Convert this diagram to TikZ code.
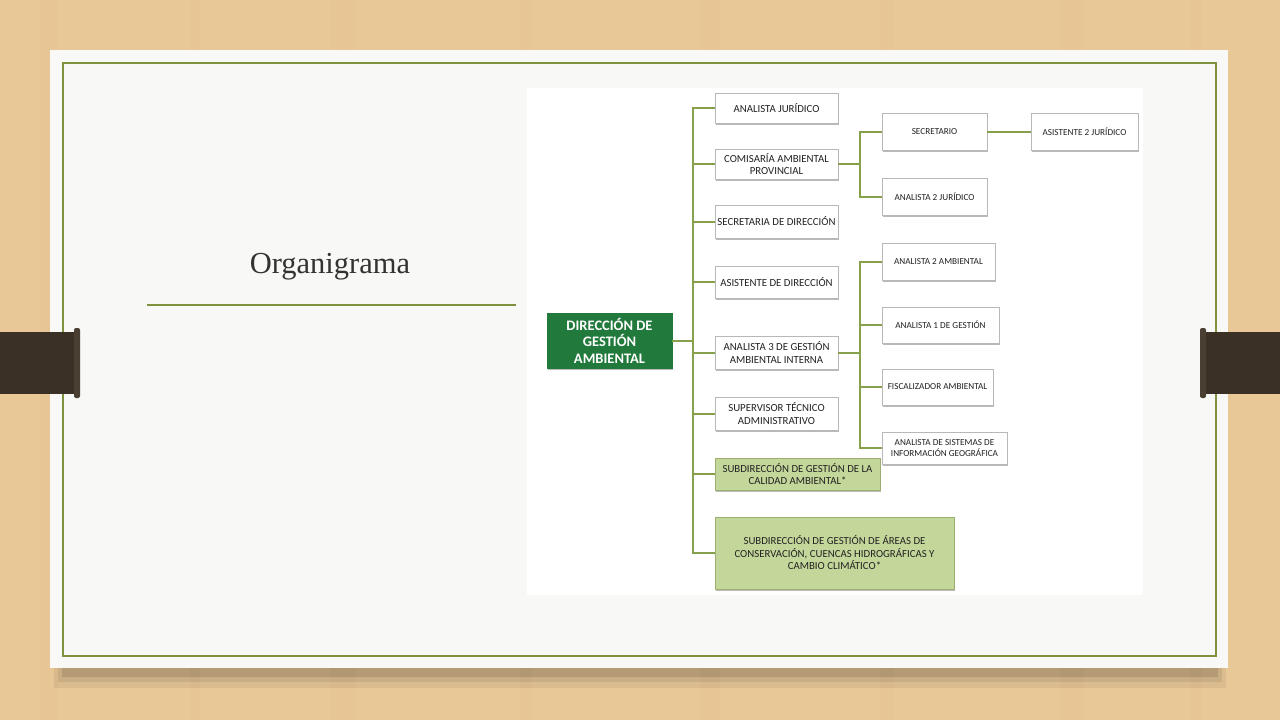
\documentclass[tikz,border=0pt]{standalone}
\usepackage{fontspec}
\setmainfont{Carlito}
\newfontfamily\titlefont{Liberation Serif}
\usepackage{xcolor}
\usepackage{tikz}
\usetikzlibrary{positioning,shadows}
\definecolor{wood}{HTML}{E9C898}
\definecolor{woodgrain}{HTML}{D9B27C}
\definecolor{slide}{HTML}{F8F8F6}
\definecolor{olive}{HTML}{7D913E}
\definecolor{strap}{HTML}{3A3026}
\definecolor{strapcap}{HTML}{4A3F33}
\definecolor{linkgreen}{HTML}{86A04C}
\definecolor{darkgreen}{HTML}{217A3C}
\definecolor{palegreen}{HTML}{C4D79B}
\definecolor{paleline}{HTML}{9CAF6E}
\definecolor{boxline}{HTML}{B8B8B8}
\definecolor{txtgray}{HTML}{222222}

\tikzset{
  orgbox/.style={draw=boxline, fill=white, line width=0.8pt, align=center,
    text=txtgray, inner sep=1pt, font=\fontsize{10.8}{12.5}\selectfont,
    drop shadow={shadow xshift=1.2pt, shadow yshift=-1.6pt, fill=black!60, opacity=0.45}},
  smallbox/.style={orgbox, font=\fontsize{9.2}{10.8}\selectfont},
  subbox/.style={orgbox, fill=palegreen, draw=paleline},
  mainbox/.style={orgbox, fill=darkgreen, draw=darkgreen, text=white,
    font=\fontsize{14.5}{16.5}\selectfont\bfseries},
  link/.style={draw=linkgreen, line width=2pt}
}

\begin{document}
\begin{tikzpicture}[x=1pt,y=-1pt]
  \useasboundingbox (0,0) rectangle (1280,720);
  % wooden table
  \fill[wood] (0,0) rectangle (1280,720);
  \foreach \gx/\gw in {40/18,190/10,330/26,520/12,700/20,880/14,1060/24,1190/12}
    \fill[woodgrain, opacity=0.12] (\gx,0) rectangle ++(\gw,720);
  % slide and its shadow
  \fill[black, opacity=0.06] (54,662) rectangle (1226,688);
  \fill[black, opacity=0.08] (58,664) rectangle (1222,682);
  \fill[black, opacity=0.10] (62,666) rectangle (1218,677);
  \fill[slide] (50,50) rectangle (1228,668);
  \draw[olive, line width=1.8pt] (63,63) rectangle (1216,656);
  % straps
  \fill[strap] (0,332) rectangle (78,394);
  \fill[strapcap, rounded corners=2pt] (74,328) rectangle (80,398);
  \fill[strap] (1202,332) rectangle (1280,394);
  \fill[strapcap, rounded corners=2pt] (1200,328) rectangle (1206,398);

  % title
  \node[font=\titlefont\fontsize{30.5}{34}\selectfont, text=black!80] (title) at (330,267) {Organigrama};
  \draw[olive, line width=1.6pt] (147,305) -- (516,305);

  % chart area
  \fill[white] (527,88) rectangle (1143,595);

  \node[mainbox, minimum width=125pt, minimum height=55pt] (dir) at (609.5,340.5)
    {DIRECCIÓN DE\\GESTIÓN\\AMBIENTAL};

  \node[orgbox, minimum width=123pt, minimum height=30pt] (aj) at (776.5,108) {ANALISTA JURÍDICO};
  \node[orgbox, minimum width=123pt, minimum height=30pt] (cap) at (776.5,164) {COMISARÍA AMBIENTAL\\PROVINCIAL};
  \node[orgbox, minimum width=123pt, minimum height=33pt] (sdir) at (776.5,221.5) {SECRETARIA DE DIRECCIÓN};
  \node[orgbox, minimum width=123pt, minimum height=32pt] (adir) at (776.5,282) {ASISTENTE DE DIRECCIÓN};
  \node[orgbox, minimum width=123pt, minimum height=33pt] (ana3) at (776.5,352.5) {ANALISTA 3 DE GESTIÓN\\AMBIENTAL INTERNA};
  \node[orgbox, minimum width=123pt, minimum height=33pt] (sup) at (776.5,413.5) {SUPERVISOR TÉCNICO\\ADMINISTRATIVO};
  \node[subbox, minimum width=165pt, minimum height=32pt] (scal) at (797.5,474) {SUBDIRECCIÓN DE GESTIÓN DE LA\\CALIDAD AMBIENTAL*};
  \node[subbox, minimum width=239pt, minimum height=72pt] (sarea) at (834.5,553)
    {SUBDIRECCIÓN DE GESTIÓN DE ÁREAS DE\\CONSERVACIÓN, CUENCAS HIDROGRÁFICAS Y\\CAMBIO CLIMÁTICO*};

  \node[smallbox, minimum width=105pt, minimum height=37pt] (sec) at (934.5,131.5) {SECRETARIO};
  \node[smallbox, minimum width=105pt, minimum height=37pt] (ana2j) at (934.5,196.5) {ANALISTA 2 JURÍDICO};
  \node[smallbox, minimum width=107pt, minimum height=37pt] (asi2j) at (1084.5,131.5) {ASISTENTE 2 JURÍDICO};

  \node[smallbox, minimum width=113pt, minimum height=37pt] (ana2a) at (938.5,261.5) {ANALISTA 2 AMBIENTAL};
  \node[smallbox, minimum width=117pt, minimum height=36pt] (ana1g) at (940.5,325) {ANALISTA 1 DE GESTIÓN};
  \node[smallbox, minimum width=111pt, minimum height=36pt] (fisc) at (937.5,387) {FISCALIZADOR AMBIENTAL};
  \node[smallbox, minimum width=125pt, minimum height=32pt] (asig) at (944.5,448) {ANALISTA DE SISTEMAS DE\\INFORMACIÓN GEOGRÁFICA};

  % connectors
  \coordinate (trunk) at (693,340.5);
  \coordinate (cbus) at (860,164);
  \coordinate (abus) at (860,352.5);
  \draw[link] (dir.east) -- (trunk);
  \foreach \kid in {aj,cap,sdir,adir,ana3,sup,scal,sarea}
    \draw[link] (trunk) |- (\kid.west);
  \draw[link] (cap.east) -- (cbus);
  \draw[link] (cbus) |- (sec.west);
  \draw[link] (cbus) |- (ana2j.west);
  \draw[link] (sec.east) -- (asi2j.west);
  \draw[link] (ana3.east) -- (abus);
  \foreach \kid in {ana2a,ana1g,fisc,asig}
    \draw[link] (abus) |- (\kid.west);
\end{tikzpicture}
\end{document}
